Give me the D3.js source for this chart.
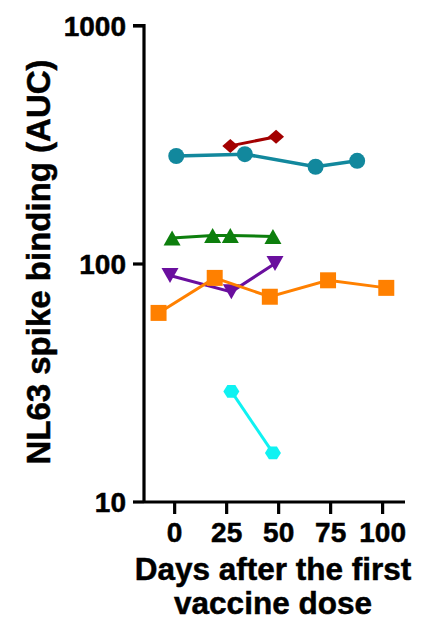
<!DOCTYPE html>
<html>
<head>
<meta charset="utf-8">
<script src="https://cdn.jsdelivr.net/npm/d3@7"></script>
<style>
  html, body { margin: 0; padding: 0; background: #fff; }
  svg { display: block; }
  text { font-family: "Liberation Sans", Arial, Helvetica, sans-serif; font-weight: bold; fill: #000; stroke: #000; stroke-width: 0.5px; }
</style>
</head>
<body>
<div id="chart"></div>
<script>
// NL63 spike binding over time, one line per participant
const xTicks = [0, 25, 50, 75, 100];
const yTicks = [10, 100, 1000];

const redDays = [27, 49];
const redAUC = [312, 341];

const tealDays = [1, 34, 68, 88];
const tealAUC = [283, 288, 255, 270];

const greenDays = [-1, 18.5, 27, 47.5];
const greenAUC = [128, 131, 131, 130];

const purpleDays = [-2, 27.5, 48.5];
const purpleAUC = [89, 76, 100];

const orangeDays = [-7.5, 19.5, 46, 74, 102];
const orangeAUC = [62, 87, 72.5, 85, 79];

const cyanDays = [27.5, 47.5];
const cyanAUC = [29, 16];

const series = [
  { name: "red", days: redDays, auc: redAUC, color: "#a30000", marker: "diamond", width: 3 },
  { name: "teal", days: tealDays, auc: tealAUC, color: "#12889d", marker: "circle", width: 3.5 },
  { name: "green", days: greenDays, auc: greenAUC, color: "#0d7f0d", marker: "triangleUp", width: 3 },
  { name: "purple", days: purpleDays, auc: purpleAUC, color: "#6a0f9e", marker: "triangleDown", width: 3 },
  { name: "orange", days: orangeDays, auc: orangeAUC, color: "#ff8000", marker: "square", width: 3 },
  { name: "cyan", days: cyanDays, auc: cyanAUC, color: "#0ff2f2", marker: "hexagon", width: 3 }
];

const W = 425, H = 620;
const svg = d3.select("#chart").append("svg").attr("width", W).attr("height", H);

const x = d3.scaleLinear().domain([-14.5, 111]).range([144, 405]);
const y = d3.scaleLog().domain([10, 1000]).range([501.5, 25.5]);

// marker shapes centred on the data point
function markerPath(type) {
  switch (type) {
    case "circle": return d3.symbol(d3.symbolCircle, Math.PI * 8 * 8)();
    case "square": return "M-8,-8H8V8H-8Z";
    case "diamond": return "M0,-7L8,0L0,7L-8,0Z";
    case "triangleUp": return "M0,-7.5L8.5,7.5L-8.5,7.5Z";
    case "triangleDown": return "M0,7.5L8.5,-7.5L-8.5,-7.5Z";
    case "hexagon": {
      const r = 8, pts = [];
      for (let i = 0; i < 6; i++) {
        const a = Math.PI / 3 * i;
        pts.push([r * Math.cos(a), r * 0.92 * Math.sin(a)]);
      }
      return "M" + pts.map(p => p.join(",")).join("L") + "Z";
    }
  }
}

const line = d3.line().x(d => x(d[0])).y(d => y(d[1]));

const plot = svg.append("g");
series.forEach(s => {
  const pts = s.days.map((d, i) => [d, s.auc[i]]);
  const g = plot.append("g").attr("class", "series-" + s.name);
  g.append("path")
    .datum(pts)
    .attr("d", line)
    .attr("fill", "none")
    .attr("stroke", s.color)
    .attr("stroke-width", s.width);
  g.selectAll("path.marker")
    .data(pts)
    .join("path")
    .attr("class", "marker")
    .attr("transform", d => `translate(${x(d[0])},${y(d[1])})`)
    .attr("d", markerPath(s.marker))
    .attr("fill", s.color);
});

// y axis
const yAxis = d3.axisLeft(y)
  .tickValues(yTicks)
  .tickFormat(d3.format("d"))
  .tickSize(11)
  .tickPadding(7);
const gy = svg.append("g").attr("transform", "translate(144,0)").call(yAxis);
gy.select(".domain").attr("d", `M-11,${y(1000)}H0V${y(10)}`).attr("stroke", "#000").attr("stroke-width", 3.2).attr("fill", "none");
gy.selectAll(".tick line").attr("stroke", "#000").attr("stroke-width", 3.2);
gy.selectAll(".tick text").style("font-size", "28px").attr("dy", "0.35em");

// x axis
const xAxis = d3.axisBottom(x)
  .tickValues(xTicks)
  .tickSize(12)
  .tickPadding(8);
const gx = svg.append("g").attr("transform", "translate(0,502)").call(xAxis);
gx.select(".domain").attr("d", `M144,0H405`).attr("stroke", "#000").attr("stroke-width", 3.2);
gx.selectAll(".tick line").attr("stroke", "#000").attr("stroke-width", 3.2);
gx.selectAll(".tick text").style("font-size", "28px").attr("dy", "0.71em");

// axis titles
svg.append("text")
  .attr("transform", "translate(50,262) rotate(-90)")
  .attr("text-anchor", "middle")
  .style("font-size", "33px")
  .text("NL63 spike binding (AUC)");

svg.append("text")
  .attr("x", 273).attr("y", 580)
  .attr("text-anchor", "middle")
  .style("font-size", "31.5px")
  .text("Days after the first");
svg.append("text")
  .attr("x", 273).attr("y", 614)
  .attr("text-anchor", "middle")
  .style("font-size", "31.5px")
  .text("vaccine dose");
</script>
</body>
</html>
